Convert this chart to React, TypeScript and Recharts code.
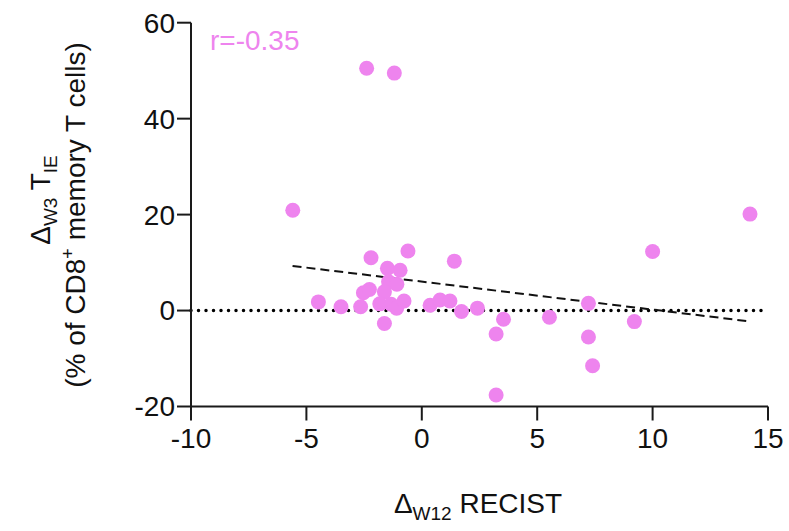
import React from "react";
import { ScatterChart, Scatter, XAxis, YAxis, ReferenceLine } from "recharts";

const xValues = [-2.39, -1.19, -5.59, -4.48, -3.5, -2.2, -0.6, 1.41, -1.49, -0.94, -2.53, -2.27, -1.44, -1.08, -1.62, -2.65, -1.82, -1.33, -1.09, -0.77, -1.62, 0.36, 0.79, 1.22, 1.72, 2.41, 3.54, 3.22, 3.22, 14.22, 10.0, 7.22, 5.53, 9.21, 7.22, 7.4];
const yValues = [50.5, 49.5, 20.9, 1.8, 0.8, 11.0, 12.4, 10.3, 8.8, 8.4, 3.7, 4.4, 6.0, 5.5, 3.9, 0.8, 1.4, 1.3, 0.5, 2.0, -2.7, 1.1, 2.2, 2.0, -0.2, 0.5, -1.8, -4.9, -17.6, 20.1, 12.3, 1.5, -1.4, -2.3, -5.5, -11.5];
const fitX = [-5.6, 14.1];
const fitY = [9.3, -2.2];
const xTicks = [-10, -5, 0, 5, 10, 15];
const yTicks = [-20, 0, 20, 40, 60];
const rLabel = "r=-0.35";

const data = xValues.map((x, i) => ({ x, y: yValues[i] }));

const FONT = "'Liberation Sans', Arial, sans-serif";
const PINK = "#EE84EE";

const YTitle = () => (
  <g fontFamily={FONT} fill="#111">
    <text transform="translate(50,200) rotate(-90)" textAnchor="middle" fontSize={28}>
      <tspan>Δ</tspan>
      <tspan fontSize={19} dy={7}>W3</tspan>
      <tspan dy={-7}> T</tspan>
      <tspan fontSize={19} dy={7}>IE</tspan>
    </text>
    <text transform="translate(85,215) rotate(-90)" textAnchor="middle" fontSize={28}>
      <tspan>(% of CD8</tspan>
      <tspan fontSize={18} dy={-11}>+</tspan>
      <tspan dy={11}> memory T cells)</tspan>
    </text>
  </g>
);

const XTitle = () => (
  <g fontFamily={FONT} fill="#111">
    <text x={478} y={513} textAnchor="middle" fontSize={28}>
      <tspan>Δ</tspan>
      <tspan fontSize={19} dy={7}>W12</tspan>
      <tspan dy={-7}> RECIST</tspan>
    </text>
    <text x={210} y={50} fontSize={28} fill={PINK}>{rLabel}</text>
  </g>
);

const Dot = (props: any) => <circle cx={props.cx} cy={props.cy} r={7.5} fill={PINK} />;

export default function App() {
  return (
    <div style={{ position: "absolute", left: 0, top: 0, background: "#fff" }}>
      <ScatterChart
        width={789}
        height={531}
        margin={{ top: 22.7, right: 21, bottom: 0, left: 0 }}
      >
        <XAxis
          type="number"
          dataKey="x"
          domain={[-10, 15]}
          ticks={xTicks}
          height={124.5}
          tickSize={14}
          tickMargin={8}
          stroke="#1a1a1a"
          strokeWidth={2}
          tick={{ fontSize: 28, fill: "#111", fontFamily: FONT }}
          label={<XTitle />}
        />
        <YAxis
          type="number"
          dataKey="y"
          domain={[-20, 60]}
          ticks={yTicks}
          width={191}
          tickSize={14}
          tickMargin={2}
          stroke="#1a1a1a"
          strokeWidth={2}
          tick={{ fontSize: 28, fill: "#111", fontFamily: FONT }}
          label={<YTitle />}
        />
        <ReferenceLine
          y={0}
          stroke="#000"
          strokeWidth={3.5}
          strokeDasharray="0 7.5"
          strokeLinecap="round"
        />
        <ReferenceLine
          segment={[
            { x: fitX[0], y: fitY[0] },
            { x: fitX[1], y: fitY[1] },
          ]}
          stroke="#111"
          strokeWidth={2}
          strokeDasharray="9 5"
        />
        <Scatter data={data} shape={<Dot />} isAnimationActive={false} />
      </ScatterChart>
    </div>
  );
}
